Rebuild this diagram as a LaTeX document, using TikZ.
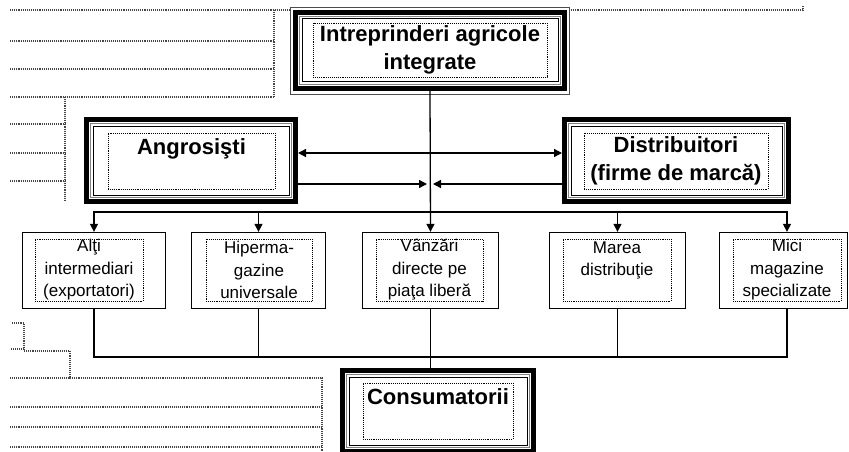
\documentclass[tikz,border=0pt]{standalone}
\usepackage{fontspec}
\setmainfont{Liberation Sans}
\usetikzlibrary{arrows.meta}
\tikzset{
  bigframe/.style={draw, line width=5pt, inner sep=0pt,
    path picture={
      \draw[gray, line width=0.6pt] ([shift={(4pt,-4pt)}]path picture bounding box.north west)
        rectangle ([shift={(-4pt,4pt)}]path picture bounding box.south east);
      \draw[line width=1pt] ([shift={(6.5pt,-6.5pt)}]path picture bounding box.north west)
        rectangle ([shift={(-6.5pt,6.5pt)}]path picture bounding box.south east);}},
  rowbox/.style={draw, line width=1.3pt, inner sep=0pt},
  txt/.style={draw, densely dotted, line width=0.9pt, inner sep=0pt, align=center},
  bigtxt/.style={txt, font=\fontsize{22}{28}\selectfont\bfseries},
  smalltxt/.style={txt, font=\fontsize{17}{22.5}\selectfont},
  deco/.style={gray!55!black, densely dotted, line width=1.1pt},
  conn/.style={line width=1.3pt},
  arr/.style={-{Triangle[length=8pt,width=8pt]}}
}
\begin{document}
\begin{tikzpicture}[x=1pt, y=-1pt]
  \useasboundingbox (0,0) rectangle (849,452);
  \clip (0,0) rectangle (849,452);
  \fill[white] (0,0) rectangle (849,452);
  % Page layout marks
  \draw[deco] (10,10) -- (290,10);
  \draw[deco] (569,10) -- (803,10) -- (803,5);
  \foreach \y in {41,69,97}
    \draw[deco] (10,\y) -- (274,\y);
  \draw[deco] (274,10) -- (274,97);
  \draw[deco] (65,97) -- (65,200);
  \foreach \y in {124,153,181}
    \draw[deco] (10,\y) -- (65,\y);
  \draw[deco] (12,323) -- (24,323) -- (24,349) -- (10,349);
  \draw[deco] (24,351) -- (70,351) -- (70,378) -- (10,378);
  \draw[deco] (70,378) -- (322,378) -- (322,452);
  \foreach \y in {407,427,447}
    \draw[deco] (10,\y) -- (322,\y);
  % Main boxes
  \node[bigframe, minimum width=269, minimum height=76] (intr) at (430,50.5) {};
  \node[bigtxt, minimum width=234, minimum height=54] (intrtxt) at (430,50) {Intreprinderi agricole\\integrate};
  \draw[gray!60!black, line width=0.8pt] ([shift={(-3pt,3pt)}]intr.north west) rectangle ([shift={(2pt,-3pt)}]intr.south east);
  \node[bigframe, minimum width=209, minimum height=82] (angro) at (191,160.5) {};
  \node[bigtxt, minimum width=167, minimum height=56] (angrotxt) at (191.5,161) {Angrosişti\\\mbox{}};
  \node[bigframe, minimum width=224, minimum height=82] (distrib) at (676.5,160.5) {};
  \node[bigtxt, minimum width=184, minimum height=56] (distribtxt) at (676,161) {Distribuitori\\(firme de marcă)};
  \node[bigframe, minimum width=191, minimum height=81] (cons) at (438,411) {};
  \node[bigtxt, minimum width=150, minimum height=56] (constxt) at (438,411) {Consumatorii\\\mbox{}};
  % Channels
  \node[rowbox, minimum width=143, minimum height=76] (alti) at (94,270.5) {};
  \node[smalltxt, minimum width=108, minimum height=62] (altitxt) at (89,270) {Alţi\\intermediari\\(exportatori)};
  \node[rowbox, minimum width=134, minimum height=76] (hiper) at (258.5,270.5) {};
  \node[smalltxt, minimum width=106, minimum height=62] (hipertxt) at (259,270) {Hiperma-\\gazine\\universale};
  \node[rowbox, minimum width=136, minimum height=76] (vanz) at (430.5,270.5) {};
  \node[smalltxt, minimum width=107, minimum height=62] (vanztxt) at (429.5,270) {Vânzări\\directe pe\\piaţa liberă};
  \node[rowbox, minimum width=136, minimum height=76] (marea) at (617.5,270.5) {};
  \node[smalltxt, minimum width=108, minimum height=62] (mareatxt) at (617,270) {Marea\\distribuţie\\\mbox{}};
  \node[rowbox, minimum width=128, minimum height=76] (mici) at (783.5,270.5) {};
  \node[smalltxt, minimum width=108, minimum height=62] (micitxt) at (787,270) {Mici\\magazine\\specializate};
  % Arrows
  \draw[conn, arr] (intr.south) -- (vanz.north);
  \draw[conn, {Triangle[length=8pt,width=8pt]}-{Triangle[length=8pt,width=8pt]}] ([yshift=7.5pt]angro.east) -- ([yshift=7.5pt]distrib.west);
  \coordinate (meet) at (430,184);
  \draw[conn, arr] ([yshift=-23.5pt]angro.east) -- ([xshift=-3pt]meet);
  \draw[conn, arr] ([yshift=-23.5pt]distrib.west) -- ([xshift=3pt]meet);
  \coordinate (busTop) at (430,212);
  \foreach \b in {alti,hiper,marea}
    \draw[conn, arr] (busTop) -| (\b.north);
  \draw[conn, arr] (busTop) -| (micitxt.north |- mici.north);
  \coordinate (busBot) at (430,357);
  \foreach \b in {alti,hiper,marea}
    \draw[conn] (\b.south) |- (busBot);
  \draw[conn] (micitxt.south |- mici.south) |- (busBot);
  \draw[conn] (vanz.south) -- (vanz.south |- cons.north);
\end{tikzpicture}
\end{document}
